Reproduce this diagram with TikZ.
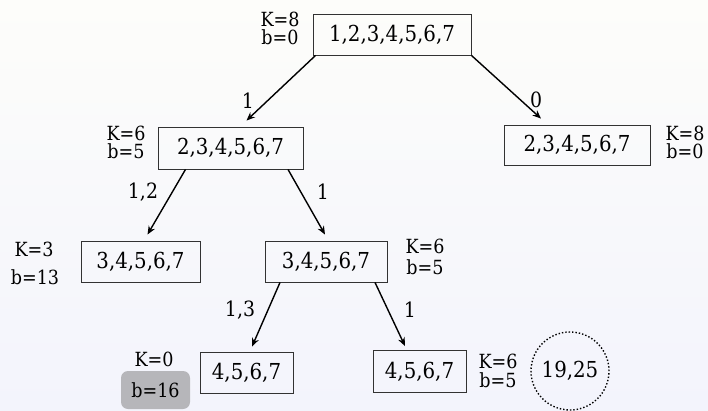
\documentclass[tikz,border=0pt]{standalone}
\usepackage{fontspec}
\IfFontExistsTF{DejaVu Serif Condensed}{\setmainfont{DejaVu Serif Condensed}}{\setmainfont{Liberation Serif}}
\usetikzlibrary{arrows.meta,calc}
\definecolor{bgtop}{RGB}{253,253,250}
\definecolor{bgbot}{RGB}{243,244,252}
\definecolor{boxline}{RGB}{50,50,50}
\definecolor{hlgray}{RGB}{182,182,186}
\begin{document}
\begin{tikzpicture}[x=1pt,y=-1pt,
  setbox/.style={draw=boxline,line width=0.9pt,inner sep=0pt,font=\fontsize{22}{24}\selectfont},
  kb/.style={inner sep=0pt,anchor=base,font=\fontsize{19.5}{22}\selectfont},
  elab/.style={inner sep=0pt,font=\fontsize{21}{24}\selectfont},
  arr/.style={-{Stealth[length=8.5pt,width=7pt]},line width=1.4pt},
  dotcirc/.style={circle,draw,dotted,line width=1.4pt,inner sep=0pt,minimum size=78pt,font=\fontsize{22}{24}\selectfont}]
\shade[top color=bgtop,bottom color=bgbot] (0,0) rectangle (708,411);
\useasboundingbox (0,0) rectangle (708,411);

% set boxes
\node[setbox,minimum width=158pt,minimum height=41pt] (top) at (392,34.5) {1,2,3,4,5,6,7};
\node[setbox,minimum width=145pt,minimum height=42pt] (l1) at (230.5,148) {2,3,4,5,6,7};
\node[setbox,minimum width=146pt,minimum height=40pt] (r1) at (577,145) {2,3,4,5,6,7};
\node[setbox,minimum width=119pt,minimum height=41pt] (l2) at (140.5,261.5) {3,4,5,6,7};
\node[setbox,minimum width=122pt,minimum height=41pt] (m2) at (326,261.5) {3,4,5,6,7};
\node[setbox,minimum width=93pt,minimum height=41pt] (b1) at (246.5,372.5) {4,5,6,7};
\node[setbox,minimum width=93pt,minimum height=42pt] (b2) at (419.5,371.5) {4,5,6,7};
\node[dotcirc] (res) at (570,371) {19,25};

% K / b labels
\node[kb] (ktop) at (280,27) {K=8};
\node[kb] (btop) at (280,45) {b=0};
\node[kb] (kl1) at (126,141) {K=6};
\node[kb] (bl1) at (126,159) {b=5};
\node[kb] (kr1) at (685,141) {K=8};
\node[kb] (br1) at (685,159) {b=0};
\node[kb] (kl2) at (34,256) {K=3};
\node[kb] (bl2) at (35,284) {b=13};
\node[kb] (km2) at (425,254) {K=6};
\node[kb] (bm2) at (425,274) {b=5};
\node[kb] (kb1) at (154,366) {K=0};
\node[fill=hlgray,rounded corners=7pt,inner sep=0pt,minimum width=69pt,minimum height=38pt,font=\fontsize{19.5}{22}\selectfont] (bb1) at (155.5,390) {b=16};
\node[kb] (kb2) at (498,368) {K=6};
\node[kb] (bb2) at (498,387) {b=5};

% connectors
\draw[arr] ([xshift=3pt]top.south west) -- ([xshift=16pt,yshift=6pt]l1.north);
\draw[arr] (top.south east) -- ([xshift=-36pt,yshift=6pt]r1.north);
\draw[arr] ([xshift=-45pt]l1.south) -- ([xshift=7pt,yshift=6pt]l2.north);
\draw[arr] ([xshift=57.5pt]l1.south) -- ([xshift=-1pt,yshift=6pt]m2.north);
\draw[arr] ([xshift=-46pt]m2.south) -- ([xshift=5.5pt,yshift=5pt]b1.north);
\draw[arr] ([xshift=49pt]m2.south) -- ([xshift=-14.5pt,yshift=4pt]b2.north);

% edge labels
\node[elab] (e1) at (248,101) {1};
\node[elab] (e2) at (536,100) {0};
\node[elab] (e3) at (143,192) {1,2};
\node[elab] (e4) at (323,192) {1};
\node[elab] (e5) at (240,310) {1,3};
\node[elab] (e6) at (410,310) {1};
\end{tikzpicture}
\end{document}
